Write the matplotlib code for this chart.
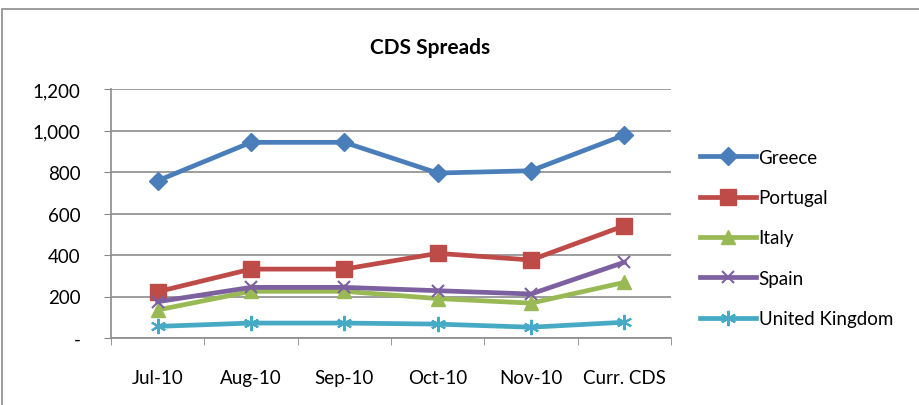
import matplotlib.pyplot as plt
import matplotlib.ticker as mticker
from matplotlib.patches import Rectangle

months = ["Jul-10", "Aug-10", "Sep-10", "Oct-10", "Nov-10", "Curr. CDS"]
greece = [758, 943, 943, 795, 806, 978]
portugal = [223, 332, 332, 408, 376, 541]
italy = [135, 225, 225, 190, 168, 268]
spain = [175, 244, 244, 228, 212, 365]
uk = [56, 72, 72, 67, 52, 76]

plt.rcParams['font.family'] = ['Lato', 'DejaVu Sans']

fig = plt.figure(figsize=(9.19, 4.06), dpi=100)
ax = fig.add_axes([111 / 919, 67 / 406, 560 / 919, 249 / 406])

# outer chart-area border (only top and left visible in the crop)
fig.patches.append(Rectangle((2 / 919, -0.2), 1.2, 1.2 - 10 / 406,
                             transform=fig.transFigure, fill=False,
                             edgecolor='#8c8c8c', lw=1.2))

x = list(range(len(months)))
series = [
    ("Greece", greece, '#4A7EBB', dict(marker='D', ms=9)),
    ("Portugal", portugal, '#BE4B48', dict(marker='s', ms=11)),
    ("Italy", italy, '#98B954', dict(marker='^', ms=10)),
    ("Spain", spain, '#7D60A0', dict(marker='x', ms=9, mew=1.5)),
    ("United Kingdom", uk, '#46AAC5', dict(marker=(6, 2, 0), ms=11, mew=1.5)),
]
for name, vals, col, mk in series:
    ax.plot(x, vals, color=col, lw=3.4, label=name, mec=col, mfc=col, **mk)

ax.set_xlim(-0.5, 5.5)
ax.set_ylim(0, 1200)
ax.set_yticks(range(0, 1201, 200))
ax.yaxis.set_major_formatter(mticker.FuncFormatter(
    lambda v, p: '-' if v == 0 else f"{int(v):,}"))
ax.set_xticks(x)
ax.set_xticklabels(months)
ax.set_xticks([i - 0.5 for i in range(len(months) + 1)], minor=True)
ax.tick_params(axis='x', which='major', length=0, pad=22, labelsize=13.5)
ax.tick_params(axis='x', which='minor', length=5, color='#868686', direction='out')
ax.tick_params(axis='y', length=5, color='#868686', pad=17, labelsize=13.5)

ax.grid(axis='y', color='#8c8c8c', lw=1.2)
ax.set_axisbelow(True)
for s in ['top', 'right']:
    ax.spines[s].set_visible(False)
for s in ['left', 'bottom']:
    ax.spines[s].set_color('#8c8c8c')
    ax.spines[s].set_linewidth(1.2)

fig.text(430 / 919, 1 - 48 / 406, "CDS Spreads", ha='center', va='center',
         fontsize=15, fontweight='bold')

ax.legend(loc='center left', bbox_to_anchor=(692 / 919, 1 - 239 / 406),
          bbox_transform=fig.transFigure, frameon=False, fontsize=13.5,
          handlelength=3.0, handletextpad=0.15, labelspacing=1.25,
          borderaxespad=0)

fig.savefig("out.png", dpi=100)
